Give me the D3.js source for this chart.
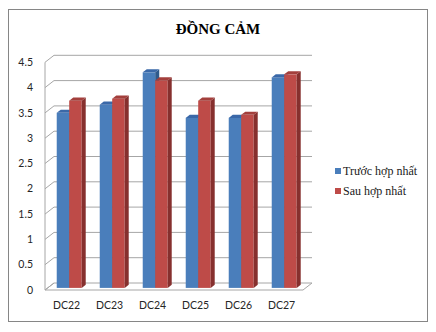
<!DOCTYPE html>
<html>
<head>
<meta charset="utf-8">
<script src="https://cdn.jsdelivr.net/npm/d3@7"></script>
<style>
  body { margin: 0; background: #fff; }
  svg { display: block; }
</style>
</head>
<body>
<div id="chart"></div>
<script>
// données du graphique
const categories = ["DC22", "DC23", "DC24", "DC25", "DC26", "DC27"];
const truocHopNhat = [3.46, 3.62, 4.26, 3.36, 3.36, 4.16];
const sauHopNhat = [3.70, 3.74, 4.10, 3.70, 3.42, 4.22];
const seriesNames = ["Trước hợp nhất", "Sau hợp nhất"];
const yTicks = [0, 0.5, 1, 1.5, 2, 2.5, 3, 3.5, 4, 4.5];

const W = 436, H = 332;
const serif = "'Liberation Serif', 'Times New Roman', serif";
const sans = "Lato, sans-serif";
const svg = d3.select("#chart").append("svg").attr("width", W).attr("height", H);

// cadre extérieur
svg.append("rect")
    .attr("x", 8.5).attr("y", 9.5).attr("width", 419).attr("height", 312)
    .attr("fill", "#fff").attr("stroke", "#868686").attr("stroke-width", 1);

// titre
svg.append("text")
    .attr("x", 218).attr("y", 34)
    .attr("text-anchor", "middle")
    .attr("font-family", serif)
    .attr("font-weight", "bold").attr("font-size", 15)
    .text("ĐỒNG CẢM");

// profondeur 3D (décalage du plan arrière)
const DX = 9, DY = -7;

const x = d3.scaleBand().domain(categories).range([45, 303]).paddingInner(0.42).paddingOuter(0.21);
const y = d3.scaleLinear().domain([0, 4.5]).range([290, 62.3]);

const gridColor = "#a6a6a6";
const g = svg.append("g");

// mur arrière + mur gauche
yTicks.forEach(v => {
    const yf = y(v);
    if (v > 0) {
        g.append("line")
            .attr("x1", 45 + DX).attr("y1", yf + DY)
            .attr("x2", 303 + DX).attr("y2", yf + DY)
            .attr("stroke", gridColor);
    }
    g.append("line")
        .attr("x1", 45).attr("y1", yf)
        .attr("x2", 45 + DX).attr("y2", yf + DY)
        .attr("stroke", gridColor);
});
g.append("line")
    .attr("x1", 45).attr("y1", y(0)).attr("x2", 45).attr("y2", y(4.5))
    .attr("stroke", gridColor);

// sol
g.append("path")
    .attr("d", `M45,${y(0)}L303,${y(0)}L${303 + DX},${y(0) + DY}L${45 + DX},${y(0) + DY}Z`)
    .attr("fill", "none").attr("stroke", gridColor);

// étiquettes de l'axe Y
svg.append("g").selectAll("text").data(yTicks).join("text")
    .attr("x", 33).attr("y", d => y(d))
    .attr("dy", "0.35em")
    .attr("text-anchor", "end")
    .attr("font-family", sans).attr("font-size", 10.5)
    .attr("fill", "#262626")
    .text(d => d);

// étiquettes de l'axe X
svg.append("g").selectAll("text").data(categories).join("text")
    .attr("x", d => x(d) + x.bandwidth() / 2)
    .attr("y", 309)
    .attr("text-anchor", "middle")
    .attr("font-family", sans).attr("font-size", 10.5)
    .attr("fill", "#262626")
    .text(d => d);

// barres 3D
const colors = [
    { front: "#4a7ebb", side: "#2f5a8c", top: "#3a68a8" },
    { front: "#be4b48", side: "#86302e", top: "#a33f3c" }
];
const f0 = 0.3, f1 = 0.75;   // position en profondeur des barres
const barW = x.bandwidth() / 2;
const values = [truocHopNhat, sauHopNhat];

categories.forEach((c, i) => {
    values.forEach((serie, s) => {
        const v = serie[i];
        const bx = x(c) + s * barW + DX * f0;
        const yb = y(0) + DY * f0;
        const yt = y(v) + DY * f0;
        const ddx = DX * (f1 - f0), ddy = DY * (f1 - f0);
        const col = colors[s];
        // face avant
        g.append("rect")
            .attr("x", bx).attr("y", yt).attr("width", barW).attr("height", yb - yt)
            .attr("fill", col.front);
        // côté droit
        g.append("path")
            .attr("d", `M${bx + barW},${yt}L${bx + barW + ddx},${yt + ddy}L${bx + barW + ddx},${yb + ddy}L${bx + barW},${yb}Z`)
            .attr("fill", col.side);
        // dessus
        g.append("path")
            .attr("d", `M${bx},${yt}L${bx + ddx},${yt + ddy}L${bx + barW + ddx},${yt + ddy}L${bx + barW},${yt}Z`)
            .attr("fill", col.top);
    });
});

// légende
const legend = svg.append("g");
seriesNames.forEach((name, s) => {
    const ly = 171 + s * 20;
    legend.append("rect")
        .attr("x", 335).attr("y", ly - 3).attr("width", 6).attr("height", 6)
        .attr("fill", colors[s].front);
    legend.append("text")
        .attr("x", 343).attr("y", ly)
        .attr("dy", "0.35em")
        .attr("font-family", serif)
        .attr("font-size", 12)
        .attr("fill", "#1a1a1a")
        .text(name);
});
</script>
</body>
</html>
